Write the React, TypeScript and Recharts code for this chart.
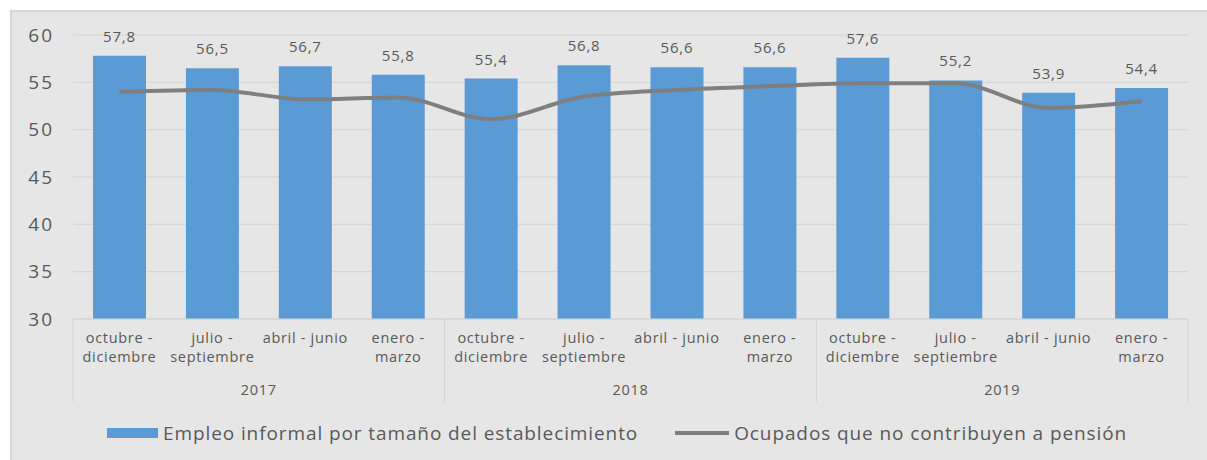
import React from 'react'
import { ComposedChart, Bar, Line, XAxis, YAxis, CartesianGrid, LabelList, Legend } from 'recharts'

const periods = [
  'octubre - diciembre', 'julio - septiembre', 'abril - junio', 'enero - marzo',
  'octubre - diciembre', 'julio - septiembre', 'abril - junio', 'enero - marzo',
  'octubre - diciembre', 'julio - septiembre', 'abril - junio', 'enero - marzo',
]
const years = ['2017', '2018', '2019']
const empleoInformal = [57.8, 56.5, 56.7, 55.8, 55.4, 56.8, 56.6, 56.6, 57.6, 55.2, 53.9, 54.4]
const noContribuyen = [54.0, 54.2, 53.2, 53.4, 51.1, 53.5, 54.2, 54.6, 54.9, 54.9, 52.3, 53.0]
const yTicks = [30, 35, 40, 45, 50, 55, 60]

const lineBreaks: Record<string, [string, string]> = {
  'octubre - diciembre': ['octubre -', 'diciembre'],
  'julio - septiembre': ['julio -', 'septiembre'],
  'abril - junio': ['abril - junio', ''],
  'enero - marzo': ['enero -', 'marzo'],
}

const data = periods.map((p, i) => ({
  key: `${years[Math.floor(i / 4)]}-${i}`,
  periodo: p,
  year: years[Math.floor(i / 4)],
  empleo: empleoInformal[i],
  pension: noContribuyen[i],
}))

const W = 1207
const H = 460
const M = { top: 35, right: 19, left: 0, bottom: 25 }
const Y_W = 73
const BAND = (W - M.left - M.right - Y_W) / periods.length
const FONT = '"Open Sans", "Noto Sans", sans-serif'
const TXT = '#595959'

const fmt = (v: number) => v.toFixed(1).replace('.', ',')

function PeriodTick(props: any) {
  const { x, y, payload, index } = props
  const p = data[index] ?? data[payload.index]
  const [a, b] = lineBreaks[p.periodo]
  const left = x - BAND / 2
  const right = x + BAND / 2
  const groupPos = index % 4
  const ts = { fill: TXT, fontSize: 14.5, fontFamily: FONT, letterSpacing: 0.7 }
  return (
    <g>
      {groupPos === 0 && <line x1={left} x2={left} y1={y} y2={y + 83} stroke="#d4d4d4" />}
      {index === periods.length - 1 && <line x1={right} x2={right} y1={y} y2={y + 83} stroke="#d4d4d4" />}
      <text x={x} y={y + 24} textAnchor="middle" {...ts}>{a}</text>
      {b && <text x={x} y={y + 43} textAnchor="middle" {...ts}>{b}</text>}
      {groupPos === 1 && (
        <text x={right} y={y + 76} textAnchor="middle" {...ts}>{p.year}</text>
      )}
    </g>
  )
}

function LegendContent() {
  return (
    <div style={{ display: 'flex', alignItems: 'center', paddingLeft: 107, fontFamily: FONT, fontSize: 19, letterSpacing: 0.9, color: TXT, whiteSpace: 'nowrap' }}>
      <span style={{ display: 'inline-block', width: 51, height: 10, background: '#5b9bd5', marginRight: 5 }} />
      <span>Empleo informal por tamaño del establecimiento</span>
      <span style={{ display: 'inline-block', width: 54, height: 4, background: '#7f7f7f', marginLeft: 37, marginRight: 5 }} />
      <span>Ocupados que no contribuyen a pensión</span>
    </div>
  )
}

export default function App() {
  return (
    <div style={{ position: 'absolute', left: 0, top: 0, width: W, height: H, background: '#fff' }}>
      <div style={{ position: 'absolute', left: 10, top: 10, width: W - 10, height: H - 10, background: '#e6e6e6', borderLeft: '2px solid #d6d6d6', borderTop: '2px solid #d6d6d6', boxSizing: 'border-box' }} />
      <div style={{ position: 'absolute', left: 0, top: 0 }}>
        <ComposedChart width={W} height={H} data={data} margin={M}>
          <CartesianGrid vertical={false} stroke="#d4d4d4" />
          <XAxis
            dataKey="key"
            interval={0}
            tickLine={false}
            axisLine={{ stroke: '#d4d4d4' }}
            tickSize={0}
            tickMargin={0}
            height={90}
            tick={<PeriodTick />}
          />
          <YAxis
            domain={[30, 60]}
            ticks={yTicks}
            width={Y_W}
            axisLine={false}
            tickLine={false}
            tickSize={0}
            tickMargin={19}
            tick={{ fill: TXT, fontSize: 19, fontFamily: FONT, letterSpacing: 2 }}
          />
          <Legend verticalAlign="bottom" content={<LegendContent />} wrapperStyle={{ left: 0, top: 420, width: W }} />
          <Bar dataKey="empleo" fill="#5b9bd5" barSize={53} isAnimationActive={false}>
            <LabelList dataKey="empleo" position="top" offset={14} formatter={(v: any) => fmt(Number(v))} fill={TXT} fontSize={15} letterSpacing={0.8} fontFamily={FONT} />
          </Bar>
          <Line dataKey="pension" type="monotone" stroke="#7f7f7f" strokeWidth={4} dot={false} isAnimationActive={false} />
        </ComposedChart>
      </div>
    </div>
  )
}
